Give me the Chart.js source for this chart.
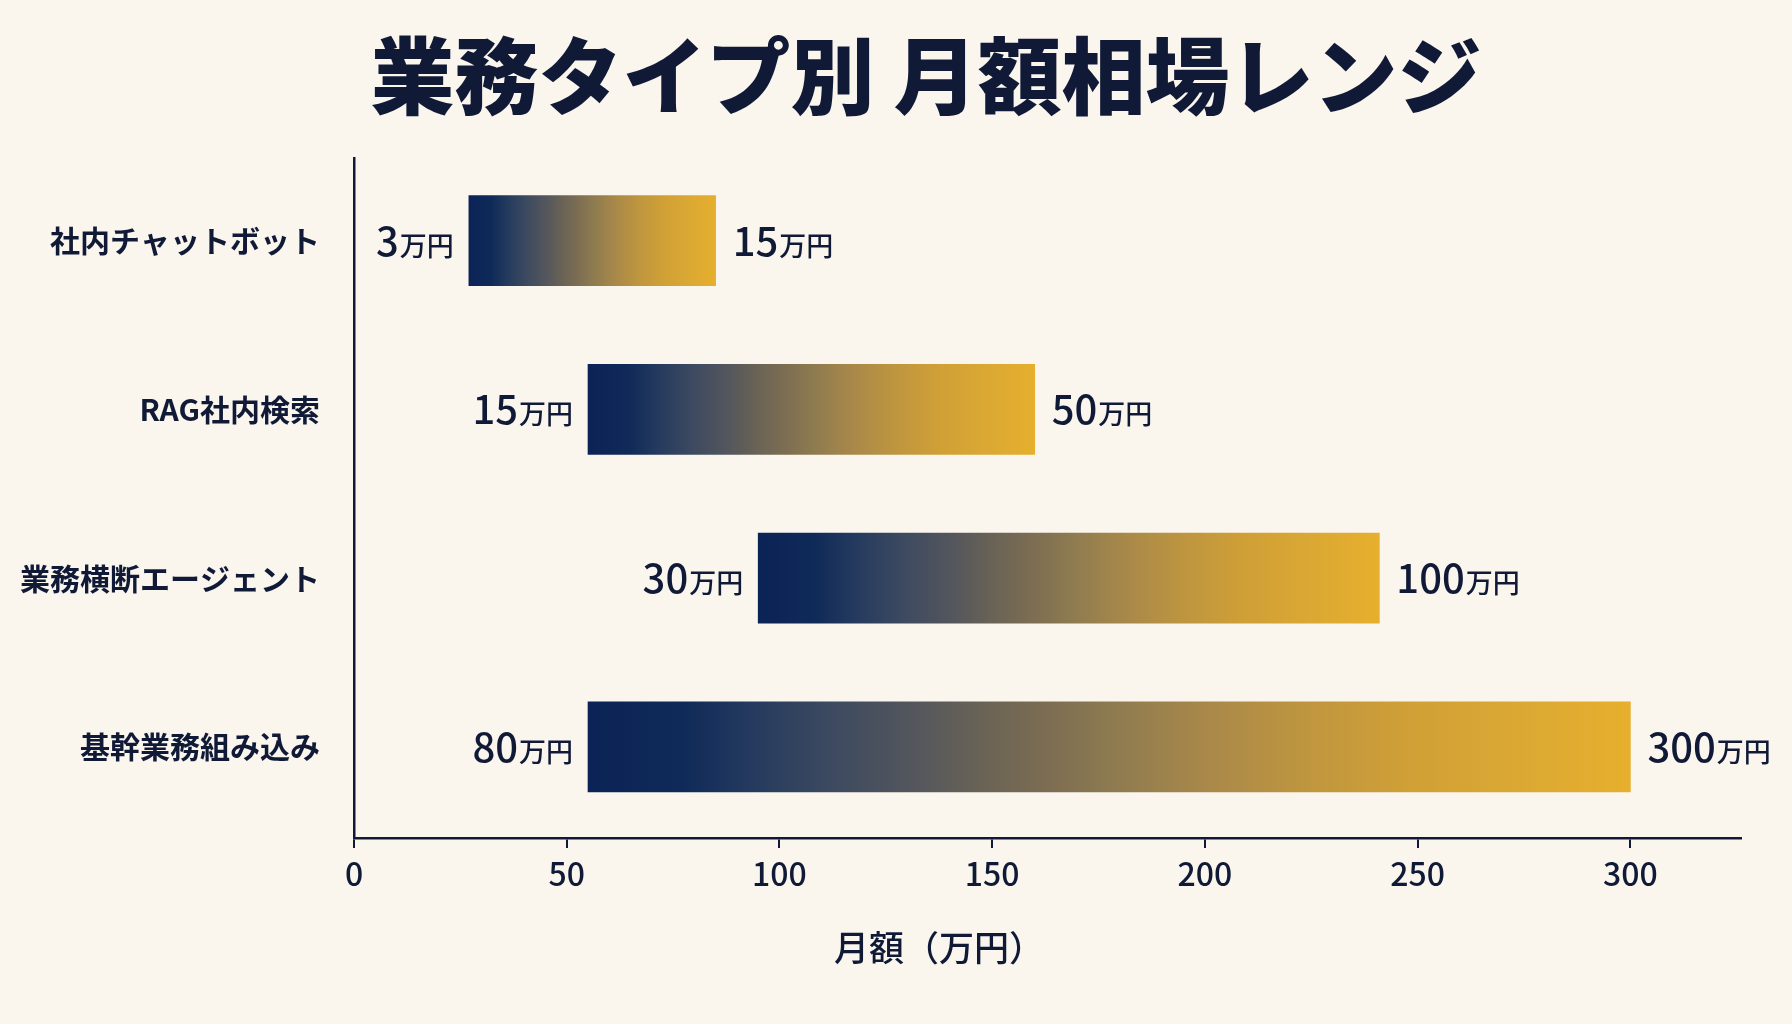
<!DOCTYPE html>
<html lang="ja">
<head>
<meta charset="utf-8">
<title>業務タイプ別 月額相場レンジ</title>
<script src="https://cdn.jsdelivr.net/npm/chart.js@4.4.1/dist/chart.umd.min.js"></script>
<style>
    html, body { margin: 0; padding: 0; background: #faf6ee; }
    #wrap { width: 1792px; height: 1024px; }
</style>
</head>
<body>
<div id="wrap"><canvas id="rangeChart" width="1792" height="1024"></canvas></div>
<script>
/* ── Data ─────────────────────────────────────────────────────── */
const categories = ['社内チャットボット', 'RAG社内検索', '業務横断エージェント', '基幹業務組み込み'];
const barStart   = [27, 55, 95, 55];      // bar left edge
const barEnd     = [85, 160, 241, 300];   // bar right edge
const lowLabels  = ['3', '15', '30', '80'];
const highLabels = ['15', '50', '100', '300'];
const unitLabel  = '万円';
const xTicks     = [0, 50, 100, 150, 200, 250, 300];

/* ── Styling ──────────────────────────────────────────────────── */
const FONT  = "'Noto Sans CJK JP', 'Noto Sans', sans-serif";
const INK   = '#101a36';
const NAVY  = '#0b2356';
const STOPS = [
    [0.000, '#0b2356'], [0.090, '#0f2a58'], [0.155, '#243a5e'], [0.235, '#3d4a60'],
    [0.317, '#55575c'], [0.380, '#6a6355'], [0.446, '#7e6e52'], [0.500, '#8c7a50'],
    [0.590, '#a8884a'], [0.690, '#bf963f'], [0.790, '#d1a036'], [0.890, '#daa833'],
    [1.000, '#e6af2d']
];

function barGradient(ctx) {
    const chart = ctx.chart;
    const i = ctx.dataIndex;
    if (!chart.chartArea || i === undefined) return NAVY;
    const xs = chart.scales.x;
    const x0 = xs.getPixelForValue(barStart[i]);
    const x1 = xs.getPixelForValue(barEnd[i]);
    const g = chart.ctx.createLinearGradient(x0, 0, x1, 0);
    STOPS.forEach(([p, c]) => g.addColorStop(p, c));
    return g;
}

// Title, x-axis caption and value labels beside each bar
const decorations = {
    id: 'decorations',
    afterDraw(chart) {
        const { ctx, scales: { x, y } } = chart;
        ctx.save();
        ctx.fillStyle = INK;

        ctx.font = `900 84px ${FONT}`;
        ctx.textAlign = 'center';
        ctx.textBaseline = 'middle';
        ctx.fillText('業務タイプ別 月額相場レンジ', 926, 76);

        ctx.font = `500 35px ${FONT}`;
        ctx.fillText('月額（万円）', 939, 948);

        ctx.textBaseline = 'alphabetic';
        const numFont  = `500 40px ${FONT}`;
        const unitFont = `500 27px ${FONT}`;
        categories.forEach((_, i) => {
            const cy = y.getPixelForValue(i) + 15;
            const left  = x.getPixelForValue(barStart[i]) - 15;
            const right = x.getPixelForValue(barEnd[i]) + 17;

            // low end, right-aligned to bar start
            ctx.font = unitFont;
            const uw = ctx.measureText(unitLabel).width;
            ctx.textAlign = 'right';
            ctx.fillText(unitLabel, left, cy);
            ctx.font = numFont;
            ctx.fillText(lowLabels[i], left - uw - 1, cy);

            // high end, left-aligned after bar end
            ctx.textAlign = 'left';
            ctx.font = numFont;
            const nw = ctx.measureText(highLabels[i]).width;
            ctx.fillText(highLabels[i], right, cy);
            ctx.font = unitFont;
            ctx.fillText(unitLabel, right + nw + 1, cy);
        });
        ctx.restore();
    }
};

const bgPlugin = {
    id: 'bg',
    beforeDraw(chart) {
        const { ctx, width, height } = chart;
        ctx.save();
        ctx.fillStyle = '#faf6ee';
        ctx.fillRect(0, 0, width, height);
        ctx.restore();
    }
};

/* ── Chart ────────────────────────────────────────────────────── */
new Chart(document.getElementById('rangeChart'), {
    type: 'bar',
    data: {
        datasets: [{
            data: categories.map((_, i) => ({ y: i, x: [barStart[i], barEnd[i]] })),
            backgroundColor: barGradient,
            borderWidth: 0,
            borderSkipped: false,
            barThickness: 90,
        }]
    },
    options: {
        indexAxis: 'y',
        responsive: false,
        animation: false,
        events: [],
        layout: { padding: { top: 158, right: 51, left: 0, bottom: 0 } },
        plugins: {
            legend:  { display: false },
            tooltip: { enabled: false },
            title:   { display: false }
        },
        scales: {
            x: {
                type: 'linear',
                min: 0,
                max: 326,
                afterBuildTicks: s => { s.ticks = xTicks.map(v => ({ value: v })); },
                afterFit: s => { s.height = 186; },
                ticks: {
                    color: INK,
                    padding: 7,
                    font: { family: FONT, size: 32, weight: '500' }
                },
                grid: {
                    drawOnChartArea: false,
                    drawTicks: true,
                    tickLength: 10,
                    color: INK,
                    lineWidth: 2
                },
                border: { display: true, color: INK, width: 2.5 }
            },
            y: {
                type: 'linear',
                offset: false,
                min: -0.49,
                max: 3.54,
                reverse: true,
                afterBuildTicks: s => { s.ticks = categories.map((_, i) => ({ value: i })); },
                afterFit: s => { s.width = 354; },
                ticks: {
                    autoSkip: false,
                    color: INK,
                    padding: 34,
                    font: { family: FONT, size: 30, weight: '600' },
                    callback: v => categories[v]
                },
                grid: { offset: false, drawOnChartArea: false, drawTicks: false },
                border: { display: true, color: INK, width: 2.5 }
            }
        }
    },
    plugins: [bgPlugin, decorations]
});
</script>
</body>
</html>
